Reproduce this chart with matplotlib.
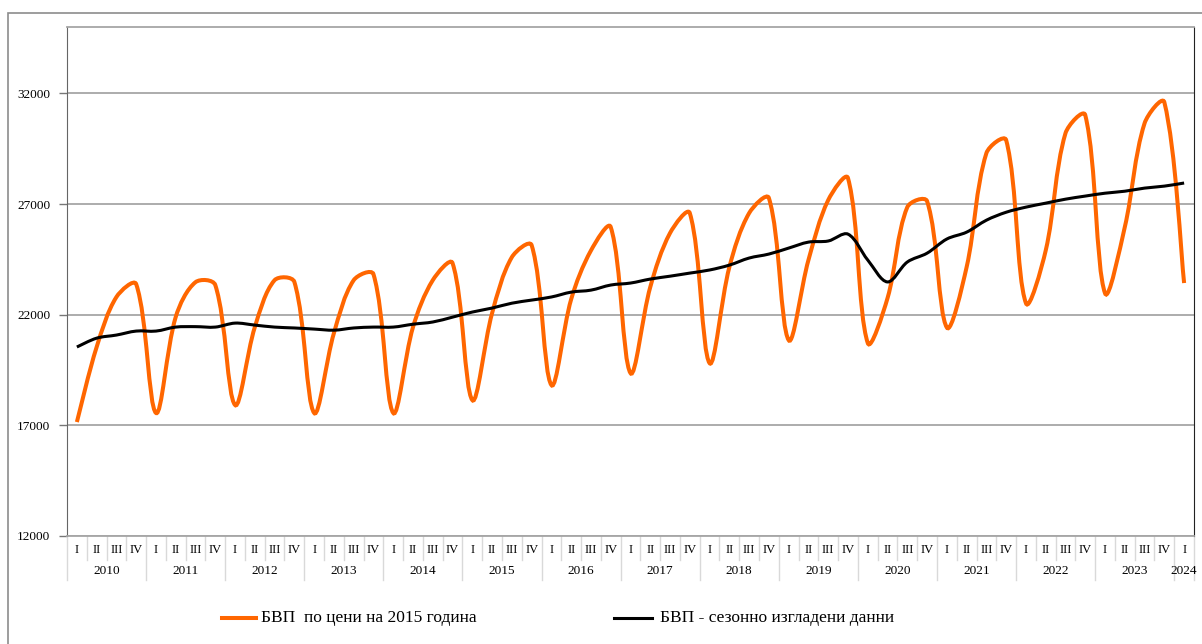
import numpy as np
import matplotlib.pyplot as plt
from matplotlib.path import Path
from matplotlib.patches import PathPatch, Rectangle
from matplotlib.lines import Line2D
import matplotlib.transforms as mtransforms

plt.rcParams['font.family'] = ['Liberation Serif', 'DejaVu Serif']

years = ["2010", "2011", "2012", "2013", "2014", "2015", "2016", "2017",
         "2018", "2019", "2020", "2021", "2022", "2023", "2024"]
quarters = ["I", "II", "III", "IV"]

# GDP at 2015 prices, quarterly 2010 Q1 .. 2024 Q1
gdp = [17150, 20540, 22800, 23380,
       17560, 21900, 23470, 23340,
       17920, 21440, 23560, 23480,
       17560, 21170, 23560, 23830,
       17560, 21440, 23560, 24330,
       18140, 22070, 24600, 25140,
       18820, 22700, 24900, 25960,
       19360, 23250, 25690, 26590,
       19810, 24150, 26590, 27270,
       20850, 24470, 27180, 28170,
       20720, 22750, 26860, 27130,
       21420, 24150, 29300, 29890,
       22520, 24900, 30200, 31020,
       22970, 25960, 30650, 31600,
       23430]

# seasonally adjusted
gdp_sa = [20540, 20940, 21080, 21260,
          21260, 21440, 21460, 21440,
          21620, 21530, 21440, 21400,
          21350, 21300, 21400, 21440,
          21440, 21570, 21670, 21890,
          22120, 22300, 22520, 22660,
          22800, 23020, 23110, 23340,
          23430, 23610, 23740, 23880,
          24020, 24240, 24560, 24740,
          25010, 25280, 25330, 25640,
          24470, 23480, 24380, 24780,
          25420, 25730, 26270, 26630,
          26860, 27040, 27220, 27360,
          27490, 27580, 27720, 27810,
          27950]

yticks = [12000, 17000, 22000, 27000, 32000]

# approx pixels per data unit, used to mimic excel's smoothing
SX = 1127 / 57
SY = 509 / 23000


def smooth_path(x, y):
    # excel-like smoothed line: bezier with handles scaled by segment length
    n = len(x)
    px = np.asarray(x, float) * SX
    py = np.asarray(y, float) * SY

    def dist(a, b):
        return np.hypot(px[b] - px[a], py[b] - py[a])

    verts = [(x[0], y[0])]
    codes = [Path.MOVETO]
    for i in range(n - 1):
        i0 = max(i - 1, 0)
        i3 = min(i + 2, n - 1)
        d01, d12, d23 = dist(i0, i), dist(i, i + 1), dist(i + 1, i3)
        f1 = d12 / (d01 + d12) / 3 if i > 0 else 1 / 6
        f2 = d12 / (d12 + d23) / 3 if i + 2 < n else 1 / 6
        c1 = (x[i] + (x[i + 1] - x[i0]) * f1, y[i] + (y[i + 1] - y[i0]) * f1)
        c2 = (x[i + 1] - (x[i3] - x[i]) * f2, y[i + 1] - (y[i3] - y[i]) * f2)
        verts += [c1, c2, (x[i + 1], y[i + 1])]
        codes += [Path.CURVE4] * 3
    return Path(verts, codes)


n = len(gdp)
xs = np.arange(n)

fig = plt.figure(figsize=(12.02, 6.44), dpi=100)
fig.patches.append(Rectangle((8 / 1202, -0.1), 1.1, 0.1 + 1 - 13 / 644,
                             transform=fig.transFigure, fill=False,
                             edgecolor="#8c8c8c", lw=1.2))
ax = fig.add_axes([67 / 1202, 1 - 536 / 644, (1194 - 67) / 1202, (536 - 27) / 644])

ax.set_xlim(-0.5, n - 0.5)
ax.set_ylim(12000, 35000)
ax.set_yticks(yticks)
ax.set_yticklabels([str(v) for v in yticks], fontsize=9.5)
ax.tick_params(axis="y", length=6, width=1, color="#777777", pad=6)
ax.set_xticks([])
ax.grid(axis="y", color="#a6a6a6", lw=1.3)
ax.set_axisbelow(True)
for s in ["top", "bottom"]:
    ax.spines[s].set_color("#a6a6a6")
    ax.spines[s].set_linewidth(1.3)
ax.spines["left"].set_color("#666666")
ax.spines["right"].set_color("#222222")

ax.add_patch(PathPatch(smooth_path(xs, gdp), fill=False, edgecolor="#ff6600",
                       lw=2.9, capstyle="butt", zorder=3))
ax.add_patch(PathPatch(smooth_path(xs, gdp_sa), fill=False, edgecolor="black",
                       lw=2.2, capstyle="butt", zorder=4))

# two level category axis
trans = mtransforms.blended_transform_factory(ax.transData, ax.transAxes)
h = 536 - 27
for i in range(n):
    ax.text(i, -(550 - 536) / h, quarters[i % 4], transform=trans,
            ha="center", va="center", fontsize=9)
for k, yr in enumerate(years):
    first = 4 * k
    last = min(4 * k + 3, n - 1)
    ax.text((first + last) / 2, -(571 - 536) / h, yr, transform=trans,
            ha="center", va="center", fontsize=9.5)
for b in range(n + 1):
    bottom = 580 if b % 4 == 0 or b == n else 560
    ax.plot([b - 0.5, b - 0.5], [0, -(bottom - 536) / h], transform=trans,
            color="#d9d9d9", lw=1, clip_on=False)

# legend drawn by hand to match the original spacing
ly = 1 - 618 / 644
labels = ["БВП  по цени на 2015 година", "БВП - сезонно изгладени данни"]
for (x0, x1, xt), col, lw, lab in zip([(222, 256, 261), (614, 652, 660)],
                                      ["#ff6600", "black"], [2.9, 2.2], labels):
    fig.add_artist(Line2D([x0 / 1202, x1 / 1202], [ly, ly], color=col, lw=lw,
                          transform=fig.transFigure))
    fig.text(xt / 1202, ly, lab, ha="left", va="center", fontsize=12.5)

fig.savefig("out.png", dpi=100)
